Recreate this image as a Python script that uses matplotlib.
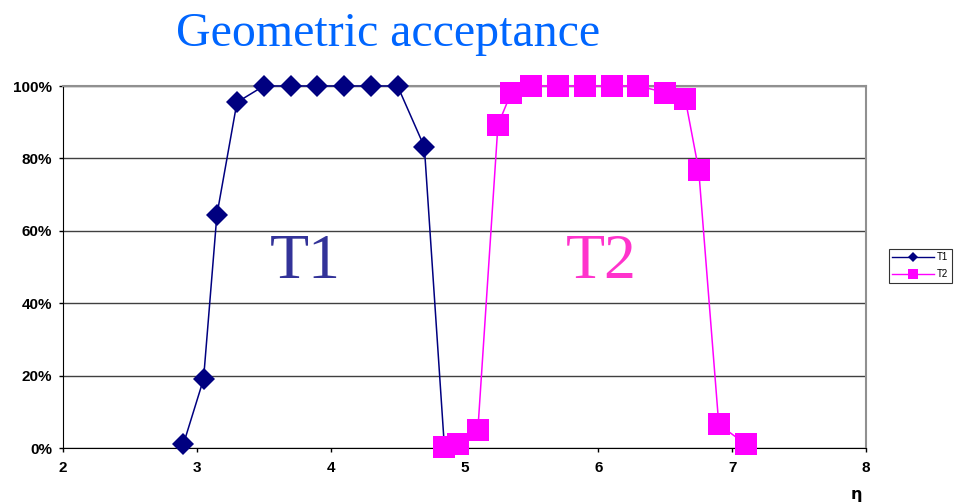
import matplotlib.pyplot as plt
from matplotlib.lines import Line2D
from matplotlib.ticker import FuncFormatter

# acceptance vs eta
t1_eta = [2.90, 3.05, 3.15, 3.30, 3.50, 3.70, 3.90, 4.10, 4.30, 4.50, 4.70, 4.85]
t1_acc = [1.1, 19.0, 64.4, 95.5, 100, 100, 100, 100, 100, 100, 83.2, 0.2]

t2_eta = [4.85, 4.95, 5.10, 5.25, 5.35, 5.50, 5.70, 5.90, 6.10, 6.30, 6.50, 6.65, 6.75, 6.90, 7.10]
t2_acc = [0.2, 1.1, 5.1, 89.3, 98.2, 100, 100, 100, 100, 100, 98.2, 96.3, 76.8, 6.5, 1.1]

x_ticks = [2, 3, 4, 5, 6, 7, 8]
y_ticks = [0, 20, 40, 60, 80, 100]

T1_COLOR = '#000080'
T2_COLOR = '#FF00FF'

fig = plt.figure(figsize=(9.55, 5.03), dpi=100)
ax = fig.add_axes([63 / 955, 55 / 503, 803 / 955, 362 / 503])

ax.plot(t1_eta, t1_acc, color=T1_COLOR, lw=1.1, marker='D', ms=11,
        mec=T1_COLOR, mfc=T1_COLOR, mew=0, clip_on=False, zorder=3)
ax.plot(t2_eta, t2_acc, color=T2_COLOR, lw=1.1, marker='s', ms=15.5,
        mec=T2_COLOR, mfc=T2_COLOR, mew=0, clip_on=False, zorder=4)

ax.set_xlim(2, 8)
ax.set_ylim(0, 100)
ax.set_xticks(x_ticks)
ax.set_yticks(y_ticks)
ax.yaxis.set_major_formatter(FuncFormatter(lambda v, _: f'{v:.0f}%'))

for lab in ax.get_xticklabels() + ax.get_yticklabels():
    lab.set_fontfamily('Liberation Sans')
    lab.set_fontweight('bold')
    lab.set_fontsize(11)
ax.tick_params(axis='both', direction='out', length=3, width=1, color='black')
ax.tick_params(axis='x', pad=6)
ax.tick_params(axis='y', pad=5)

ax.yaxis.grid(True, color='#404040', lw=1)
ax.set_axisbelow(True)
ax.spines['left'].set_color('black')
ax.spines['bottom'].set_color('black')
ax.spines['top'].set_color('#909090')
ax.spines['right'].set_color('#909090')
ax.spines['top'].set_linewidth(1.5)
ax.spines['right'].set_linewidth(1.5)

# big in-plot labels
ax.text(3.81, 47, 'T1', family='Liberation Serif', fontsize=46,
        color='#333399', ha='center', va='baseline')
ax.text(6.02, 47, 'T2', family='Liberation Serif', fontsize=46,
        color='#FF33CC', ha='center', va='baseline')

fig.text(388 / 955, 1 - 46 / 503, 'Geometric acceptance', family='Liberation Serif',
         fontsize=34.5, color='#0066FF', ha='center', va='baseline')

fig.text(856 / 955, 1 - 495 / 503, 'η', family='DejaVu Sans', fontweight='bold',
         fontsize=11.5, ha='center', va='center')

handles = [
    Line2D([], [], color=T1_COLOR, lw=1, marker='D', ms=5, mew=0),
    Line2D([], [], color=T2_COLOR, lw=1, marker='s', ms=6.5, mew=0),
]
leg = fig.legend(handles, ['T1', 'T2'], loc='upper left',
                 bbox_to_anchor=(889 / 955, 1 - 249 / 503),
                 handlelength=4.3, handletextpad=0.3,
                 borderpad=0.35, labelspacing=0.7, borderaxespad=0,
                 frameon=True, fancybox=False, edgecolor='black',
                 prop={'family': 'Liberation Sans', 'size': 7})
leg.get_frame().set_linewidth(0.8)

fig.savefig('out.png', dpi=100)
